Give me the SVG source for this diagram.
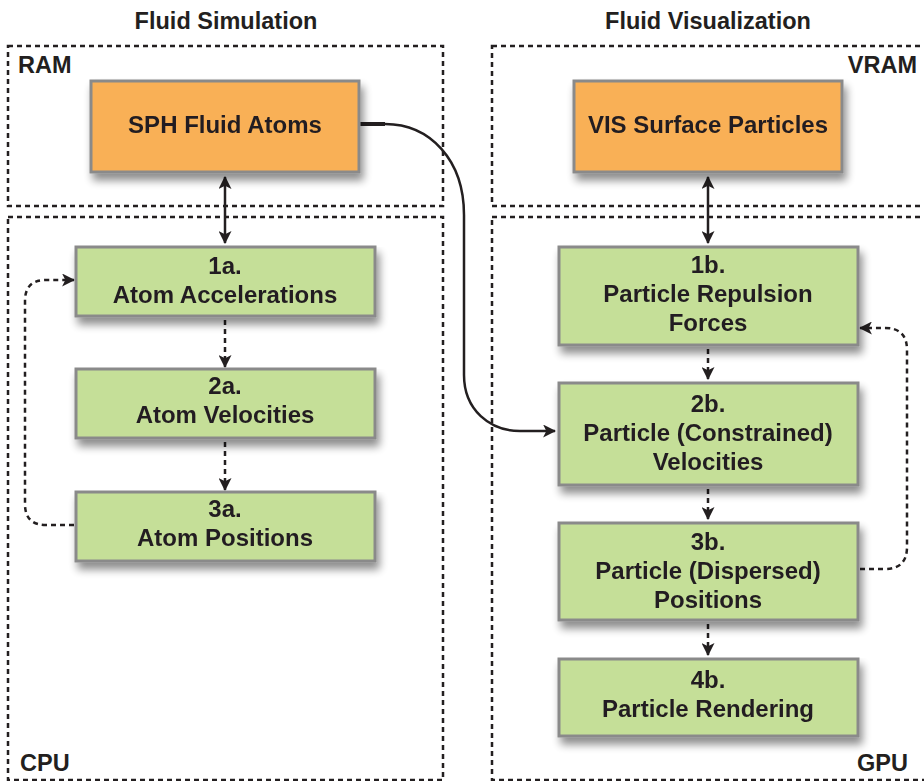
<svg xmlns="http://www.w3.org/2000/svg" width="924" height="781" viewBox="0 0 924 781">
<defs>
<style>
.t{font-family:"Liberation Sans",Arial,sans-serif;font-weight:bold;fill:#231f20;text-anchor:middle}
.nt{font-size:24px}
.ti{font-size:23.5px}
.lb{font-size:23.5px}
.region{fill:none;stroke:#231f20;stroke-width:2.5;stroke-dasharray:5,4}
.orange{fill:#f9b057;stroke:#8a8a8a;stroke-width:3}
.green{fill:#c5df98;stroke:#8a8a8a;stroke-width:3}
.c{fill:none;stroke:#231f20;stroke-width:2.5}
.d{fill:none;stroke:#231f20;stroke-width:2.5;stroke-dasharray:5,4}
</style>
<filter id="sh" x="-10%" y="-10%" width="125%" height="140%">
<feGaussianBlur in="SourceAlpha" stdDeviation="4"/>
<feOffset dx="3" dy="7" result="b"/>
<feComponentTransfer><feFuncA type="linear" slope="0.45"/></feComponentTransfer>
<feMerge><feMergeNode/><feMergeNode in="SourceGraphic"/></feMerge>
</filter>
<marker id="ah" viewBox="0 0 12 12" refX="11" refY="6" markerWidth="13" markerHeight="13" markerUnits="userSpaceOnUse" orient="auto-start-reverse">
<path d="M0,0 L12,6 L0,12 L3,6 Z" fill="#231f20"/>
</marker>
</defs>
<rect width="924" height="781" fill="#fff"/>

<g id="titles">
<text class="t ti" x="226" y="29">Fluid Simulation</text>
<text class="t ti" x="708" y="29">Fluid Visualization</text>
</g>

<g id="regions">
<rect class="region" x="8" y="46" width="435" height="160"/>
<rect class="region" x="8" y="217" width="435" height="563"/>
<rect class="region" x="492" y="46" width="440" height="160"/>
<rect class="region" x="492" y="217" width="440" height="563"/>
<text class="t lb" x="18" y="73" style="text-anchor:start">RAM</text>
<text class="t lb" x="917" y="73" style="text-anchor:end">VRAM</text>
<text class="t lb" x="20" y="771" style="text-anchor:start">CPU</text>
<text class="t lb" x="908" y="771" style="text-anchor:end">GPU</text>
</g>

<g id="connectors">
<line class="c" x1="225" y1="177" x2="225" y2="243" marker-start="url(#ah)" marker-end="url(#ah)"/>
<line class="c" x1="708" y1="177" x2="708" y2="243" marker-start="url(#ah)" marker-end="url(#ah)"/>
<line class="d" x1="225" y1="320" x2="225" y2="367" marker-end="url(#ah)"/>
<line class="d" x1="225" y1="442" x2="225" y2="490" marker-end="url(#ah)"/>
<path class="d" d="M74,525 L46,525 Q25,525 25,504 L25,301 Q25,280 46,280 L74,280" marker-end="url(#ah)"/>
<line class="d" x1="708" y1="349" x2="708" y2="379" marker-end="url(#ah)"/>
<line class="d" x1="708" y1="489" x2="708" y2="519" marker-end="url(#ah)"/>
<line class="d" x1="708" y1="624" x2="708" y2="655" marker-end="url(#ah)"/>
<path class="d" d="M860,569 L885,569 Q907,569 907,547 L907,350 Q907,328 885,328 L860,328" marker-end="url(#ah)"/>
<line x1="360" y1="124" x2="385" y2="124" stroke="#231f20" stroke-width="4"/>
<path class="c" d="M385,124 C430,124 464,160 464,215 L464,375 C464,410 490,431 520,431 L555,431" marker-end="url(#ah)"/>
</g>

<g id="sph" filter="url(#sh)">
<rect class="orange" x="91" y="81" width="268" height="91"/>
<text class="t nt" x="225" y="133">SPH Fluid Atoms</text>
</g>
<g id="vis" filter="url(#sh)">
<rect class="orange" x="574" y="81" width="268" height="91"/>
<text class="t nt" x="708" y="133">VIS Surface Particles</text>
</g>

<g id="n1a" filter="url(#sh)">
<rect class="green" x="76" y="247" width="299" height="69"/>
<text class="t nt" x="225" y="274">1a.</text>
<text class="t nt" x="225" y="303">Atom Accelerations</text>
</g>
<g id="n2a" filter="url(#sh)">
<rect class="green" x="76" y="369" width="299" height="69"/>
<text class="t nt" x="225" y="394">2a.</text>
<text class="t nt" x="225" y="423">Atom Velocities</text>
</g>
<g id="n3a" filter="url(#sh)">
<rect class="green" x="76" y="492" width="299" height="69"/>
<text class="t nt" x="225" y="517">3a.</text>
<text class="t nt" x="225" y="546">Atom Positions</text>
</g>

<g id="n1b" filter="url(#sh)">
<rect class="green" x="559" y="247" width="299" height="98"/>
<text class="t nt" x="708" y="273">1b.</text>
<text class="t nt" x="708" y="302">Particle Repulsion</text>
<text class="t nt" x="708" y="331">Forces</text>
</g>
<g id="n2b" filter="url(#sh)">
<rect class="green" x="559" y="383" width="299" height="102"/>
<text class="t nt" x="708" y="412">2b.</text>
<text class="t nt" x="708" y="441">Particle (Constrained)</text>
<text class="t nt" x="708" y="470">Velocities</text>
</g>
<g id="n3b" filter="url(#sh)">
<rect class="green" x="559" y="523" width="299" height="97"/>
<text class="t nt" x="708" y="550">3b.</text>
<text class="t nt" x="708" y="579">Particle (Dispersed)</text>
<text class="t nt" x="708" y="608">Positions</text>
</g>
<g id="n4b" filter="url(#sh)">
<rect class="green" x="559" y="659" width="299" height="77"/>
<text class="t nt" x="708" y="688">4b.</text>
<text class="t nt" x="708" y="717">Particle Rendering</text>
</g>
</svg>
